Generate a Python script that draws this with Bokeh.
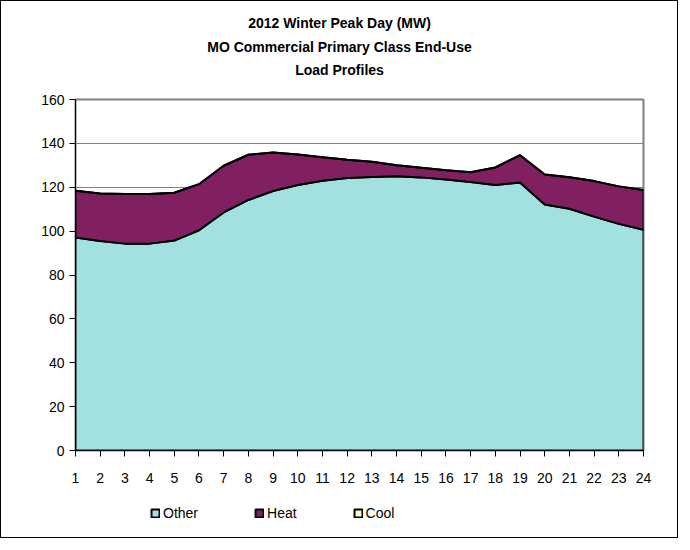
from bokeh.plotting import figure
from bokeh.layouts import column
from bokeh.models import Label, Legend, LegendItem, FixedTicker, Range1d
from bokeh.embed import file_html
from bokeh.resources import INLINE

hours = list(range(1, 25))
other = [97.1, 95.5, 94.3, 94.3, 95.7, 100.4, 108.5, 114.2, 118.3, 121.0, 123.0, 124.2,
         124.7, 125.0, 124.5, 123.5, 122.4, 121.0, 122.2, 112.1, 110.2, 106.6, 103.3, 100.6]
total_top = [118.4, 117.2, 116.9, 116.9, 117.5, 121.4, 129.8, 134.8, 135.8, 134.9, 133.7, 132.5,
             131.6, 130.0, 128.9, 127.8, 126.8, 129.0, 134.6, 125.8, 124.6, 122.8, 120.4, 118.7]
heat = [round(t - o, 1) for t, o in zip(total_top, other)]
cool = [0.0] * 24
series_names = ["Other", "Heat", "Cool"]
series_colors = ["#A3E0E0", "#802060", "#FFFFCC"]
title_lines = ["2012 Winter Peak Day (MW)", "MO Commercial Primary Class End-Use", "Load Profiles"]
y_ticks = [0, 20, 40, 60, 80, 100, 120, 140, 160]

FONT = "Liberation Sans"
W = 676
ML, MR = 74, 34

# ---- title strip ----
tf = figure(width=W, height=88, output_backend="svg", toolbar_location=None,
            x_range=Range1d(0, W - ML - MR), y_range=Range1d(88, 0),
            x_axis_location=None, y_axis_location=None,
            min_border_left=ML, min_border_right=MR, min_border_top=0, min_border_bottom=0)
tf.grid.visible = False
tf.outline_line_color = None
title_y = [21, 45, 68]
for line, ty in zip(title_lines, title_y):
    tf.add_layout(Label(x=W / 2 - ML, y=ty, text=line, text_align="center", text_baseline="middle",
                        text_font=FONT, text_font_size="14px", text_font_style="bold",
                        text_color="black"))

# ---- main plot ----
p = figure(width=W, height=396, output_backend="svg", toolbar_location=None,
           x_range=Range1d(1, 24), y_range=Range1d(0, 160),
           min_border_left=ML, min_border_right=MR, min_border_top=10, min_border_bottom=30)

renderers = []
base = [0.0] * 24
for name, vals, color in zip(series_names, [other, heat, cool], series_colors):
    top = [b + v for b, v in zip(base, vals)]
    xs = hours + hours[::-1]
    ys = top + base[::-1]
    r = p.patch(xs, ys, fill_color=color, line_color="black", line_width=2)
    renderers.append(r)
    base = top

p.xgrid.visible = False
p.ygrid.ticker = FixedTicker(ticks=y_ticks)
p.ygrid.grid_line_color = "#808080"
p.ygrid.grid_line_width = 1
p.ygrid.level = "underlay"

p.outline_line_color = "#808080"
p.outline_line_width = 2

p.yaxis.ticker = FixedTicker(ticks=y_ticks)
p.xaxis.ticker = FixedTicker(ticks=hours)
for ax in (p.xaxis, p.yaxis):
    ax.axis_line_color = "black"
    ax.axis_line_width = 1
    ax.major_tick_out = 6
    ax.major_tick_in = 0
    ax.minor_tick_out = 0
    ax.minor_tick_in = 0
    ax.major_tick_line_color = "black"
    ax.major_label_text_font = FONT
    ax.major_label_text_font_size = "14px"
    ax.major_label_text_color = "black"
p.xaxis.major_label_standoff = 16
p.yaxis.major_label_standoff = 5

# ---- legend strip ----
lf = figure(width=W, height=52, output_backend="svg", toolbar_location=None,
            x_range=Range1d(0, 1), y_range=Range1d(0, 1),
            x_axis_location=None, y_axis_location=None,
            min_border_left=ML, min_border_right=MR, min_border_top=0, min_border_bottom=0)
lf.grid.visible = False
lf.outline_line_color = None
nan = float("nan")
leg_renderers = [lf.patch([nan], [nan], fill_color=c, line_color="black", line_width=2)
                 for c in series_colors]
legend = Legend(items=[LegendItem(label=n, renderers=[r]) for n, r in zip(series_names, leg_renderers)],
                orientation="horizontal", location=(75, 16),
                glyph_width=10, glyph_height=10, label_standoff=3, spacing=56,
                label_text_font=FONT, label_text_font_size="14px", label_text_color="black",
                border_line_color=None, background_fill_alpha=0, margin=0, padding=0)
lf.add_layout(legend, "center")

layout = column(tf, p, lf, spacing=0)
layout.styles = {"border": "1px solid black"}

open("out.html", "w").write(file_html(layout, INLINE))
